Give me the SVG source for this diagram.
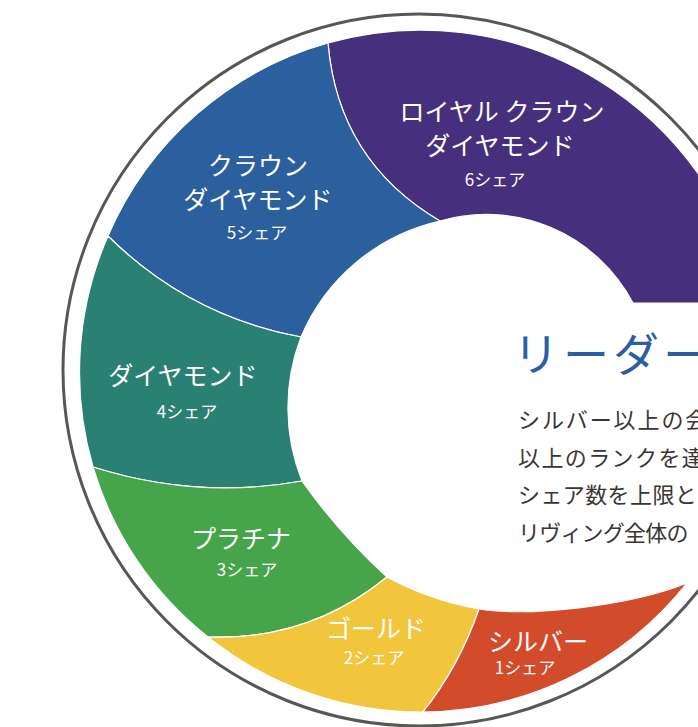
<svg xmlns="http://www.w3.org/2000/svg" width="698" height="727" viewBox="0 0 698 727">
<style>
.seg{stroke:#ffffff;stroke-width:1.2;stroke-linejoin:round}
.lbl{font-family:"Noto Sans CJK JP","Noto Sans",sans-serif;fill:#ffffff;text-anchor:middle;font-size:25px}
.sh{font-size:17px}
.body{font-family:"Noto Sans CJK JP","Noto Sans",sans-serif;fill:#3a3533;font-size:22px}
.title{font-family:"Noto Sans CJK JP","Noto Sans",sans-serif;fill:#2b5ea7;font-size:46px}
</style>
<rect width="698" height="727" fill="#ffffff"/>
<circle cx="419" cy="370" r="356" fill="none" stroke="#575753" stroke-width="3"/>
<g id="connectors"></g>
<g id="royal-crown-diamond">
<path class="seg" fill="#46307e" d="M328,43 A340,340 0 0 1 754,303 L633,303 A166,166 0 0 0 440,221 Q338,161 328,43 Z"/>
<text class="lbl" x="502" y="121">ロイヤル クラウン</text>
<text class="lbl" x="500" y="155">ダイヤモンド</text>
<text class="lbl sh" x="495" y="186">6シェア</text>
</g>
<g id="crown-diamond">
<path class="seg" fill="#2b5f9e" d="M108,236 A340,340 0 0 1 328,43 Q338,161 440,221 A198,198 0 0 0 301,337 Q188.9,316.3 108,236 Z"/>
<text class="lbl" x="258" y="175">クラウン</text>
<text class="lbl" x="258" y="209">ダイヤモンド</text>
<text class="lbl sh" x="257" y="239">5シェア</text>
</g>
<g id="diamond">
<path class="seg" fill="#2a8073" d="M93,467 A340,340 0 0 1 108,236 Q188.9,316.3 301,337 A198,198 0 0 0 302,481 Q197.5,500 93,467 Z"/>
<text class="lbl" x="183" y="385">ダイヤモンド</text>
<text class="lbl sh" x="187" y="418">4シェア</text>
</g>
<g id="platinum">
<path class="seg" fill="#46a54a" d="M208,637 A340,340 0 0 1 93,467 Q197.5,500 302,481 A600,600 0 0 0 387,577 Q308.8,640.8 208,637 Z"/>
<text class="lbl" x="241" y="548">プラチナ</text>
<text class="lbl sh" x="247" y="576">3シェア</text>
</g>
<g id="gold">
<path class="seg" fill="#f1c63d" d="M423,712 A340,340 0 0 1 208,637 Q308.8,640.8 387,577 Q430.4,600.5 479,609 Q459.8,665.3 423,712 Z"/>
<text class="lbl" x="376" y="638">ゴールド</text>
<text class="lbl sh" x="374" y="664">2シェア</text>
</g>
<g id="silver">
<path class="seg" fill="#d24c2c" d="M687,583 A340,340 0 0 1 423,712 Q459.8,665.3 479,609 C530,617 630,606 687,583 Z"/>
<text class="lbl" x="538" y="651">シルバー</text>
<text class="lbl sh" x="525" y="674">1シェア</text>
</g>
<g id="description">
<text class="title" x="513" y="371" letter-spacing="4">リーダー</text>
<text class="body" x="518" y="428" letter-spacing="1.9">シルバー以上の会</text>
<text class="body" x="518" y="465.5" letter-spacing="1.4">以上のランクを達</text>
<text class="body" x="518" y="503" letter-spacing="0.4">シェア数を上限と</text>
<text class="body" x="518" y="540.5" letter-spacing="-0.8">リヴィング全体の</text>
</g>
</svg>
